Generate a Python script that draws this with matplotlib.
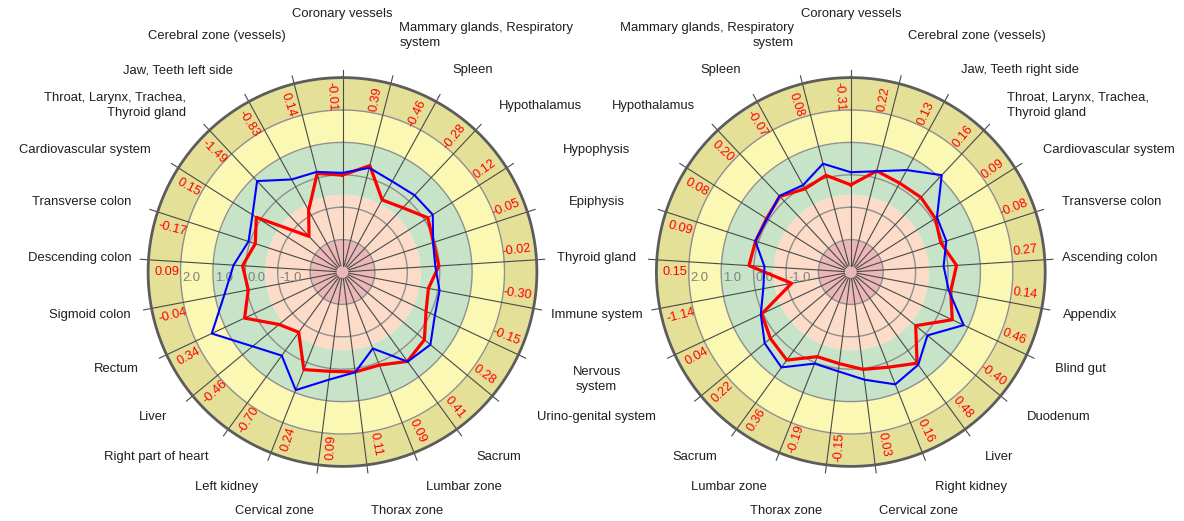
import numpy as np
import matplotlib.pyplot as plt

plt.rcParams['font.family'] = ['Liberation Sans', 'DejaVu Sans']

# categories, clockwise from the top
left_labels = ["Coronary vessels", "Mammary glands, Respiratory\nsystem", "Spleen",
               "Hypothalamus", "Hypophysis", "Epiphysis", "Thyroid gland",
               "Immune system", "Nervous\nsystem", "Urino-genital system", "Sacrum",
               "Lumbar zone", "Thorax zone", "Cervical zone", "Left kidney",
               "Right part of heart", "Liver", "Rectum", "Sigmoid colon",
               "Descending colon", "Transverse colon", "Cardiovascular system",
               "Throat, Larynx, Trachea,\nThyroid gland", "Jaw, Teeth left side",
               "Cerebral zone (vessels)"]
right_labels = ["Coronary vessels", "Cerebral zone (vessels)", "Jaw, Teeth right side",
                "Throat, Larynx, Trachea,\nThyroid gland", "Cardiovascular system",
                "Transverse colon", "Ascending colon", "Appendix", "Blind gut",
                "Duodenum", "Liver", "Right kidney", "Cervical zone", "Thorax zone",
                "Lumbar zone", "Sacrum", "Urino-genital system", "Nervous\nsystem",
                "Immune system", "Thyroid gland", "Epiphysis", "Hypophysis",
                "Hypothalamus", "Spleen", "Mammary glands, Respiratory\nsystem"]

left_red = [-0.01, 0.39, -0.46, -0.28, 0.12, -0.05, -0.02, -0.30, -0.15, 0.28, 0.41,
            0.09, 0.11, 0.09, 0.24, -0.70, -0.46, 0.34, -0.04, 0.09, -0.17, 0.15,
            -1.49, -0.83, 0.14]
left_blue = [0.06, 0.32, 0.19, 0.25, 0.30, -0.06, -0.13, 0.05, 0.15, 0.52, 0.42,
             -0.46, 0.12, 0.35, 0.92, 0.19, 0.60, 1.46, 0.71, 0.37, 0.05, 0.29,
             0.85, 0.26, 0.19]
right_red = [-0.31, 0.22, 0.13, 0.16, 0.09, -0.08, 0.27, 0.14, 0.46, -0.40, 0.48,
             0.16, 0.03, -0.15, -0.19, 0.36, 0.22, 0.04, -1.14, 0.15, 0.09, 0.08,
             0.20, -0.07, 0.08]
right_blue = [0.08, 0.21, 0.59, 1.10, 0.15, 0.10, -0.13, 0.08, 0.85, 0.07, 0.54,
              0.73, 0.35, 0.09, 0.04, 0.64, 0.45, 0.07, -0.25, -0.33, 0.10, 0.06,
              0.22, 0.06, 0.45]

radial_ticks = [2.0, 1.0, 0.0, -1.0]
bands = [(-3.0, -2.0, '#ebb7b7'), (-2.0, -0.6, '#fcdbc8'), (-0.6, 1.0, '#c7e4c9'),
         (1.0, 2.0, '#faf8b2'), (2.0, 3.0, '#e5e097')]

W, H = 1184, 521
fig = plt.figure(figsize=(W / 100, H / 100), dpi=100)
R_OUT = 194.4          # pixel radius of value 3
LC = (342.5, 272.0)    # chart centres in pixels (y from top)
RC = (850.8, 272.0)

n = len(left_labels)
step = 360.0 / n
ang = np.arange(n) * step
theta = np.deg2rad(ang)
full = np.linspace(0, 2 * np.pi, 400)


def make_axes(cx, cy):
    ax = fig.add_axes([(cx - R_OUT) / W, (H - cy - R_OUT) / H, 2 * R_OUT / W, 2 * R_OUT / H],
                      projection='polar')
    ax.set_theta_zero_location('N')
    ax.set_theta_direction(-1)
    ax.set_ylim(-3, 3)
    ax.set_xticks([])
    ax.set_yticks([])
    ax.grid(False)
    ax.spines['polar'].set_visible(False)
    ax.patch.set_alpha(0)
    return ax


def draw_chart(ax, red, blue):
    for lo, hi, c in bands:
        ax.fill_between(full, lo, hi, color=c, lw=0, zorder=0)
    for v in [-2, -1, 0, 1, 2]:
        ax.plot(full, np.full_like(full, v), color='#8f8f8f', lw=1.0, zorder=1)
    for t in theta:
        ax.plot([t, t], [-2.8, 3.25], color='#4a4a4a', lw=0.8, zorder=2, clip_on=False)
    ax.plot(full, np.full_like(full, 3), color='#5c5c5c', lw=2.0, zorder=3, clip_on=False)

    for v in radial_ticks:
        ax.text(np.deg2rad(270), v - 0.06, f"{v:.1f}", ha='left', va='top',
                color='#7f7f7f', fontsize=9.4, zorder=4)

    # value ring
    for k, v in enumerate(red):
        c = ang[k] - step / 4
        rot = (90 - c + 180) % 360 - 180
        if rot > 90:
            rot -= 180
        elif rot < -90:
            rot += 180
        ax.text(np.deg2rad(c), 2.42, f"{v:.2f}", rotation=rot, rotation_mode='anchor',
                ha='center', va='center', color='#ff0000', fontsize=9.2, zorder=4)

    tt = np.append(theta, theta[0])
    ax.plot(tt, np.append(red, red[0]), color='#ff0000', lw=2.3, zorder=5)
    ax.plot(tt, np.append(blue, blue[0]), color='#0000ff', lw=1.5, zorder=6)


def label_xy(center, k):
    a = theta[k]
    s, co = np.sin(a), np.cos(a)
    rx = 228 - 17 * abs(s) ** 20
    ry = 228 + (30 if co > 0 else 15) * abs(co) ** 20
    return center[0] + rx * s, center[1] - ry * co, s


def side(s):
    return 'left' if s > 0.05 else ('right' if s < -0.05 else 'center')


axl = make_axes(*LC)
axr = make_axes(*RC)
draw_chart(axl, left_red, left_blue)
draw_chart(axr, right_red, right_blue)

renderer = fig.canvas.get_renderer()
lab_kw = dict(va='center', color='#1e1e1e', fontsize=9.4, linespacing=1.35)
merged = set()
for k in range(n):
    x, y, s = label_xy(LC, k)
    ha = side(s)
    t = fig.text(x / W, 1 - y / H, left_labels[k], ha=ha, multialignment=ha, **lab_kw)
    if s > 0.05:
        # labels of the two charts that would collide are shared in the middle
        w = t.get_window_extent(renderer).width
        j = (n - k) % n
        xr, _, _ = label_xy(RC, j)
        if x + w + 5 > xr - w:
            if '\n' in left_labels[k]:
                t.set_y(1 - (y + 10) / H)
            t.set_x((LC[0] + RC[0]) / 2 / W)
            t.set_ha('center')
            t.set_multialignment('center')
            merged.add(j)

for j in range(n):
    if j in merged:
        continue
    x, y, s = label_xy(RC, j)
    ha = side(s)
    fig.text(x / W, 1 - y / H, right_labels[j], ha=ha, multialignment=ha, **lab_kw)

fig.savefig('out.png', dpi=100)
